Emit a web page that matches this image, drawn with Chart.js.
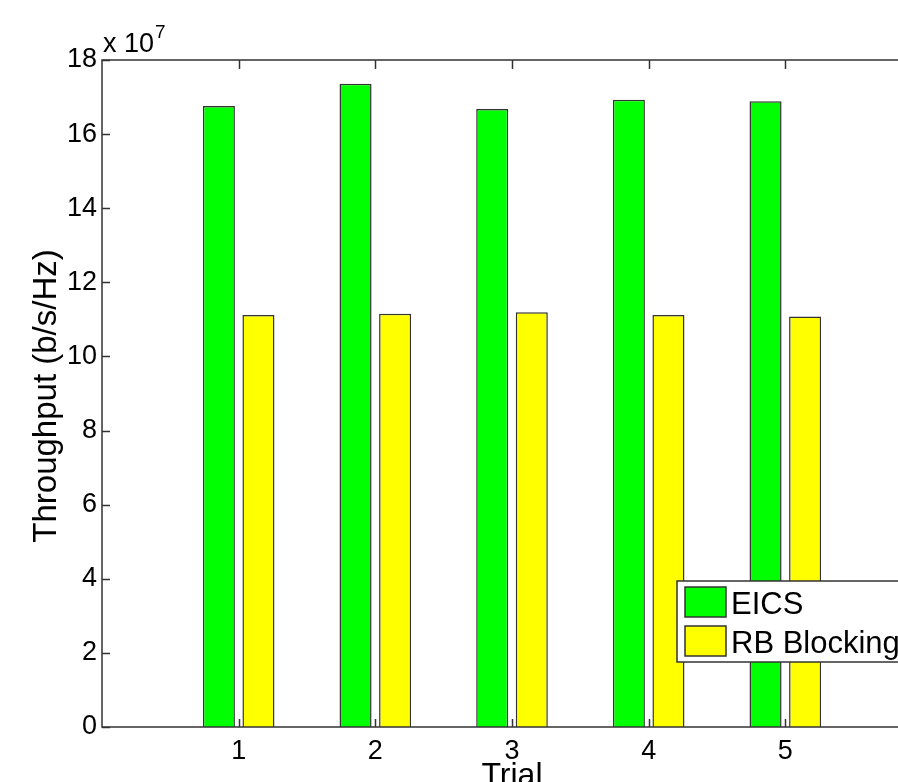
<!DOCTYPE html>
<html>
<head>
<meta charset="utf-8">
<title>Throughput per trial</title>
<script src="https://cdn.jsdelivr.net/npm/chart.js@4"></script>
<style>
    html, body { margin: 0; padding: 0; background: #fff; overflow: hidden; }
    canvas { display: block; }
</style>
</head>
<body>
<canvas id="chart" width="930" height="782"></canvas>
<script>
// 数据 (单位 1e7 b/s/Hz)
const trials = [1, 2, 3, 4, 5];
const eics = [16.76, 17.36, 16.68, 16.93, 16.89];
const rbBlocking = [11.12, 11.15, 11.19, 11.12, 11.08];
const yTicks = [0, 2, 4, 6, 8, 10, 12, 14, 16, 18];
const seriesNames = ['EICS', 'RB Blocking'];
const exponentLabel = ['x 10', '7'];

const FONT = "'Liberation Sans', Arial, sans-serif";
const AXIS = '#333';

// MATLAB 风格：框线、向内的刻度、x10^7、图例、轴标题
const matlabAxes = {
    id: 'matlabAxes',
    afterDatasetsDraw(chart) {
        const { ctx, chartArea: a, scales } = chart;
        ctx.save();
        ctx.strokeStyle = AXIS;
        ctx.lineWidth = 1.5;
        ctx.strokeRect(a.left, a.top, a.right - a.left, a.bottom - a.top);

        ctx.beginPath();
        yTicks.forEach(v => {
            const y = Math.round(scales.y.getPixelForValue(v)) + 0.5;
            ctx.moveTo(a.left, y);
            ctx.lineTo(a.left + 8, y);
        });
        trials.forEach(t => {
            const x = Math.round(scales.x.getPixelForValue(t)) + 0.5;
            ctx.moveTo(x, a.bottom);
            ctx.lineTo(x, a.bottom - 8);
            ctx.moveTo(x, a.top);
            ctx.lineTo(x, a.top + 9);
        });
        ctx.stroke();

        // x 10^7
        ctx.fillStyle = '#000';
        ctx.textAlign = 'left';
        ctx.textBaseline = 'alphabetic';
        ctx.font = '27px ' + FONT;
        ctx.fillText(exponentLabel[0], a.left + 1, 52);
        const w = ctx.measureText(exponentLabel[0]).width;
        ctx.font = '19px ' + FONT;
        ctx.fillText(exponentLabel[1], a.left + 2 + w, 38);

        // 轴标题
        ctx.font = '33px ' + FONT;
        ctx.textAlign = 'center';
        ctx.textBaseline = 'middle';
        ctx.save();
        ctx.translate(47, 396);
        ctx.rotate(-Math.PI / 2);
        ctx.fillText('Throughput (b/s/Hz)', 0, 0);
        ctx.restore();
        ctx.font = '32px ' + FONT;
        ctx.fillText('Trial', scales.x.getPixelForValue(3), 776);

        // 图例
        const lx = 677, ly = 581;
        ctx.fillStyle = '#fff';
        ctx.fillRect(lx, ly, 260, 81);
        ctx.lineWidth = 1.5;
        ctx.strokeRect(lx, ly, 260, 81);
        ctx.font = '31px ' + FONT;
        ctx.textAlign = 'left';
        ctx.textBaseline = 'alphabetic';
        chart.data.datasets.forEach((ds, i) => {
            const sy = ly + 6 + i * 39;
            ctx.fillStyle = ds.backgroundColor;
            ctx.fillRect(lx + 8, sy, 41, 30);
            ctx.strokeStyle = AXIS;
            ctx.strokeRect(lx + 8, sy, 41, 30);
            ctx.fillStyle = '#000';
            ctx.fillText(ds.label, lx + 54, sy + 27);
        });
        ctx.restore();
    }
};

new Chart(document.getElementById('chart'), {
    type: 'bar',
    data: {
        datasets: [
            {
                label: seriesNames[0],
                data: trials.map((t, i) => ({ x: t, y: eics[i] })),
                backgroundColor: '#00ff00',
                borderColor: AXIS,
                borderWidth: 1.5
            },
            {
                label: seriesNames[1],
                data: trials.map((t, i) => ({ x: t, y: rbBlocking[i] })),
                backgroundColor: '#ffff00',
                borderColor: AXIS,
                borderWidth: 1.5
            }
        ]
    },
    options: {
        responsive: false,
        animation: false,
        categoryPercentage: 0.579,
        barPercentage: 0.81,
        layout: { padding: { top: 60, left: 0, right: 0, bottom: 0 } },
        plugins: {
            legend: { display: false },
            tooltip: { enabled: false }
        },
        scales: {
            x: {
                type: 'linear',
                offset: false,
                min: 0,
                max: 6,
                grid: { display: false, drawTicks: false, offset: false },
                border: { display: false },
                afterFit(s) { s.height = 55; },
                ticks: {
                    stepSize: 1,
                    padding: 8,
                    color: '#000',
                    font: { family: FONT, size: 27 },
                    callback: v => trials.includes(v) ? String(v) : ''
                }
            },
            y: {
                min: 0,
                max: 18,
                grid: { display: false, drawTicks: false },
                border: { display: false },
                afterFit(s) { s.width = 102; },
                ticks: {
                    stepSize: 2,
                    padding: 5,
                    color: '#000',
                    font: { family: FONT, size: 27 }
                }
            }
        }
    },
    plugins: [matlabAxes]
});
</script>
</body>
</html>
